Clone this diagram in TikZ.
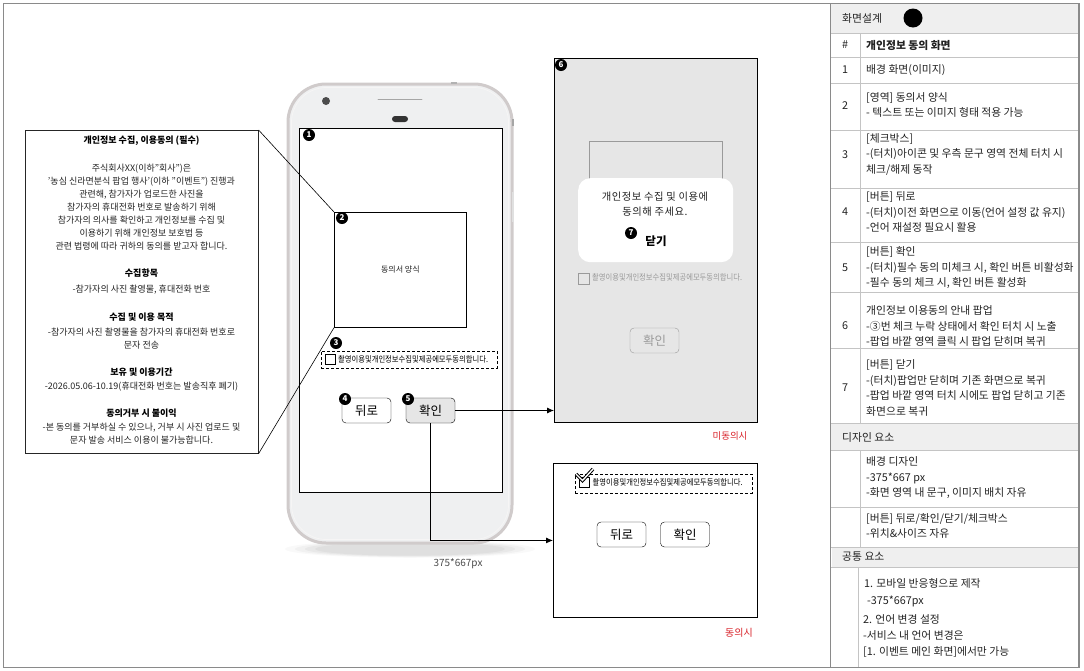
\documentclass[tikz,border=0pt]{standalone}
\usepackage{fontspec}
\usepackage{graphicx}
\setmainfont{Noto Sans CJK KR}
\usetikzlibrary{arrows.meta}
\definecolor{frame}{HTML}{8A8A8A}
\definecolor{tline}{HTML}{C4C4C4}
\definecolor{thead}{HTML}{EFEFEF}
\definecolor{phonebody}{HTML}{EFF0F1}
\definecolor{phoneedge}{HTML}{D0CBCB}
\definecolor{popbg}{HTML}{E6E6E6}
\definecolor{fade}{HTML}{9A9A9A}
\definecolor{redtxt}{HTML}{D8232A}
\definecolor{btngray}{HTML}{E6E6E6}
\definecolor{txt}{HTML}{222222}
\tikzset{
  mk/.style={circle, fill=black, text=white, inner sep=0pt, minimum size=12pt, font=\fontsize{8}{8}\selectfont\bfseries},
  btnbox/.style={draw, rounded corners=4pt, minimum width=49pt, minimum height=25pt, inner sep=0pt, font=\fontsize{12.5}{12}\selectfont},
  lt/.style={align=center, font=\fontsize{9}{13}\selectfont, inner sep=0pt, text=txt},
  lth/.style={align=center, font=\fontsize{9}{13}\selectfont\bfseries, inner sep=0pt},
  tb/.style={anchor=west, align=left, inner sep=0pt, font=\fontsize{10.8}{15.5}\selectfont, text=txt},
  tn/.style={inner sep=0pt, font=\fontsize{10.8}{12}\selectfont, text=txt},
  chktxt/.style={inner sep=0pt, anchor=west, font=\fontsize{8.3}{8}\selectfont},
  dashbox/.style={draw, dash pattern=on 3pt off 2pt, inner sep=0pt, anchor=north west},
  arr/.style={-{Latex[length=7pt,width=6pt]}, line width=0.8pt},
}
\newcommand{\cond}[1]{\scalebox{0.88}[1]{#1}}
\begin{document}
\begin{tikzpicture}[x=1pt,y=-1pt]
\useasboundingbox (0,0) rectangle (1084,670);
% outer frame
\draw[frame, line width=1pt] (3,3) rectangle (1079,667);

% ---------- left info box ----------
\node[draw=black!85, line width=0.6pt, minimum width=233pt, minimum height=323pt, anchor=north west, inner sep=0pt] (info) at (25,130) {};
\node[lth] (t0) at (141.5,141) {개인정보 수집, 이용동의 (필수)};
\node[lt] (p1) at (141.5,207) {주식회사XX(이하"회사")은\\'농심 신라면분식 팝업 행사'(이하 "이벤트") 진행과\\관련해, 참가자가 업로드한 사진을\\참가자의 휴대전화 번호로 발송하기 위해\\참가자의 의사를 확인하고 개인정보를 수집 및\\이용하기 위해 개인정보 보호법 등\\관련 법령에 따라 귀하의 동의를 받고자 합니다.};
\node[lth] (h1) at (141.5,273) {수집항목};
\node[lt] (p2) at (141.5,290) {-참가자의 사진 촬영물, 휴대전화 번호};
\node[lth] (h2) at (141.5,317) {수집 및 이용 목적};
\node[lt] (p3) at (141.5,338.5) {-참가자의 사진 촬영물을 참가자의 휴대전화 번호로\\문자 전송};
\node[lth] (h3) at (141.5,372) {보유 및 이용기간};
\node[lt] (p4) at (141.5,387) {-2026.05.06-10.19(휴대전화 번호는 발송직후 폐기)};
\node[lth] (h4) at (141.5,413) {동의거부 시 불이익};
\node[lt] (p5) at (141.5,433.5) {-본 동의를 거부하실 수 있으나, 거부 시 사진 업로드 및\\문자 발송 서비스 이용이 불가능합니다.};

% ---------- phone ----------
\foreach \rr/\op in {125/0.025,115/0.03,105/0.035,95/0.04}
  \fill[black, opacity=\op] (410,549) ellipse [x radius=\rr pt, y radius=\rr*0.07pt];
\draw[phoneedge, line width=3pt, fill=phonebody, rounded corners=38pt] (288,84) rectangle (512,543);
\draw[white!80!phoneedge, line width=0.8pt, rounded corners=35pt] (291.5,87.5) rectangle (508.5,539.5);
\fill[black!30] (451,82) rectangle (457,84);
\fill[black!35] (512,119) rectangle (514,126);
\fill[black!12] (512,192) rectangle (514,222);
\fill[black!70] (326,101) circle [radius=4pt];
\draw[black!35, line width=0.8pt, line cap=round] (378,99) -- (422,99);
\fill[black!80, rounded corners=3pt] (392,116) rectangle (408,122);
\node[draw, line width=0.8pt, fill=white, minimum width=203pt, minimum height=364pt, anchor=north west, inner sep=0pt] (scr) at (299,128) {};
\node[mk] (m1) at (309,135) {1};

\node[draw, line width=0.7pt, fill=white, minimum width=132pt, minimum height=115pt, anchor=north west, inner sep=0pt] (form) at (334,212) {};
\node[inner sep=0pt, font=\fontsize{8}{8}\selectfont, text=txt] (formtxt) at (form.center) {동의서 양식};
\node[mk] (m2) at (342,218) {2};

\node[dashbox, minimum width=176pt, minimum height=17pt] (chk) at (321,351) {};
\node[draw, line width=0.6pt, minimum size=10pt, inner sep=0pt] (box3) at (330,359.5) {};
\node[chktxt] (chkt) at (338,359.5) {\cond{촬영이용및개인정보수집및제공에모두동의합니다.}};
\node[mk] (m3) at (336,343) {3};

\node[btnbox, fill=white] (back) at (366.5,410.5) {뒤로};
\node[btnbox, fill=btngray] (ok) at (430.5,410.5) {확인};
\node[mk] (m4) at (345,399) {4};
\node[mk] (m5) at (408,399) {5};

\node[inner sep=0pt, font=\fontsize{10}{12}\selectfont, text=black!70] (size) at (458,564) {375*667px};

% connectors from info box
\draw[line width=0.6pt] (info.north east) -- (form.north west);
\draw[line width=0.6pt] (info.south east) -- (form.south west);

% ---------- popup screen (not agreed) ----------
\node[draw, line width=0.9pt, fill=popbg, minimum width=203pt, minimum height=364pt, anchor=north west, inner sep=0pt] (s6) at (554,58) {};
\draw[fade, line width=0.7pt] (589,141) rectangle (722,200);
\node[fill=white, rounded corners=12pt, minimum width=155pt, minimum height=84pt, anchor=north west, inner sep=0pt] (dlg) at (578,178) {};
\node[inner sep=0pt, align=center, font=\fontsize{10.3}{15}\selectfont\addfontfeature{LetterSpace=5}, text=txt] (dlgt) at (655,204.5) {개인정보 수집 및 이용에\\동의해 주세요.};
\node[inner sep=0pt, font=\fontsize{11.5}{12}\selectfont\bfseries] (close) at (656,241) {닫기};
\node[mk] (m7) at (631,233) {7};
\node[draw=fade, line width=0.6pt, minimum size=11pt, inner sep=0pt] (box6) at (583.5,278.5) {};
\node[chktxt, text=fade] (chk6t) at (592,277.5) {\cond{촬영이용및개인정보수집및제공에모두동의합니다.}};
\node[btnbox, draw=fade, text=fade, fill=popbg] (ok6) at (654.5,340.5) {확인};
\node[mk] (m6) at (561,65) {6};
\node[inner sep=0pt, font=\fontsize{9.5}{10}\selectfont, text=redtxt] (lab6) at (730,436) {미동의시};

% ---------- agreed screen ----------
\node[draw, line width=0.9pt, fill=white, minimum width=204pt, minimum height=154pt, anchor=north west, inner sep=0pt] (s7) at (553,463) {};
\node[dashbox, minimum width=177pt, minimum height=19pt] (chk7) at (575,474) {};
\node[draw, line width=0.6pt, minimum size=10pt, inner sep=0pt] (box7) at (584.5,482.5) {};
\draw[line width=3.4pt, line join=miter] (576,474) -- (582.5,480.5) -- (593,469);
\draw[white, line width=1.4pt, line join=miter] (576,474) -- (582.5,480.5) -- (593,469);
\node[chktxt] (chk7t) at (592.5,482) {\cond{촬영이용및개인정보수집및제공에모두동의합니다.}};
\node[btnbox, fill=white] (back7) at (621.5,534.5) {뒤로};
\node[btnbox, fill=white] (ok7) at (685,534.5) {확인};
\node[inner sep=0pt, font=\fontsize{10}{10}\selectfont, text=redtxt] (lab7) at (739,633) {동의시};

% arrows
\draw[arr] (ok.east) -- (s6.west |- ok.east);
\draw[arr] (ok.south) |- (s7.west);

% ---------- right table ----------
\fill[thead] (830,3) rectangle (1078,33);
\fill[thead] (830,423) rectangle (1078,450);
\fill[thead] (832,547) rectangle (1078,567);
\foreach \yy in {33,57,83,130,188,242,292,348,423,450,507,547,567}
  \draw[tline, line width=0.8pt] (830,\yy) -- (1078,\yy);
\draw[tline, line width=0.8pt] (860,33) -- (860,423);
\draw[tline, line width=0.8pt] (860,450) -- (860,547);
\draw[tline, line width=0.8pt] (858,567) -- (858,667);
\draw[frame, line width=1pt] (830,3) rectangle (1078,667);

\node[tb] (th) at (842,18) {화면설계};
\fill (913,18) circle [radius=9.5pt];
\node[tn] (n0) at (845,45) {\#};
\node[tb, font=\fontsize{10.8}{15.5}\selectfont\bfseries] (r0) at (866,45) {개인정보 동의 화면};
\node[tn] (n1) at (845,70) {1};
\node[tb] (r1) at (866,70) {배경 화면(이미지)};
\node[tn] (n2) at (845,106) {2};
\node[tb] (r2) at (866,105) {[영역] 동의서 양식\\- 텍스트 또는 이미지 형태 적용 가능};
\node[tn] (n3) at (845,155) {3};
\node[tb] (r3) at (866,154) {[체크박스]\\-(터치)아이콘 및 우측 문구 영역 전체 터치 시\\체크/해제 동작};
\node[tn] (n4) at (845,212) {4};
\node[tb] (r4) at (866,212) {[버튼] 뒤로\\-(터치)이전 화면으로 이동(언어 설정 값 유지)\\-언어 재설정 필요시 활용};
\node[tn] (n5) at (845,268) {5};
\node[tb] (r5) at (866,268) {[버튼] 확인\\-(터치)필수 동의 미체크 시, 확인 버튼 비활성화\\-필수 동의 체크 시, 확인 버튼 활성화};
\node[tn] (n6) at (845,326) {6};
\node[tb] (r6) at (866,326) {개인정보 이용동의 안내 팝업\\-③번 체크 누락 상태에서 확인 터치 시 노출\\-팝업 바깥 영역 클릭 시 팝업 닫히며 복귀};
\node[tn] (n7) at (845,388) {7};
\node[tb] (r7) at (866,388) {[버튼] 닫기\\-(터치)팝업만 닫히며 기존 화면으로 복귀\\-팝업 바깥 영역 터치 시에도 팝업 닫히고 기존\\화면으로 복귀};
\node[tb] (d0) at (842,437) {디자인 요소};
\node[tb] (d1) at (866,478) {배경 디자인\\-375*667 px\\-화면 영역 내 문구, 이미지 배치 자유};
\node[tb] (d2) at (866,526) {[버튼] 뒤로/확인/닫기/체크박스\\-위치\&사이즈 자유};
\node[tb] (c0) at (842,557) {공통 요소};
\node[tb, font=\fontsize{10.8}{17}\selectfont] (c1) at (864,593) {1. 모바일 반응형으로 제작\\\hspace*{3pt}-375*667px};
\node[tb, font=\fontsize{10.8}{16}\selectfont] (c2) at (863,636) {2. 언어 변경 설정\\-서비스 내 언어 변경은\\{}[1. 이벤트 메인 화면]에서만 가능};
\end{tikzpicture}
\end{document}
